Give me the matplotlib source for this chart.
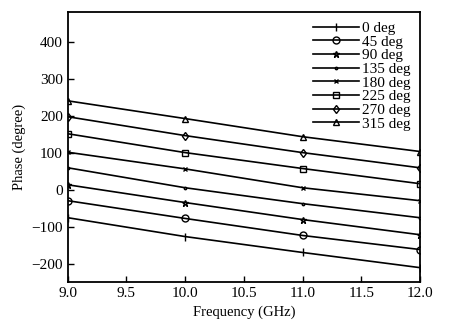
import numpy as np
import matplotlib
matplotlib.use('Agg')
import matplotlib.pyplot as plt

plt.rcParams['font.family'] = ['Liberation Serif', 'DejaVu Serif']

freq = [9.0, 10.0, 11.0, 12.0]
labels = ['0 deg', '45 deg', '90 deg', '135 deg', '180 deg',
          '225 deg', '270 deg', '315 deg']
phase = [
    [-76, -127, -170, -211],
    [-30, -78, -124, -162],
    [13, -35, -81, -122],
    [59, 5, -38, -76],
    [101, 56, 5, -30],
    [151, 100, 57, 16],
    [197, 146, 100, 59],
    [240, 192, 143, 103],
]
markers = ['|', 'o', '*', '.', 'x', 's', 'd', '^']
msizes = [6, 5, 4.5, 3.5, 3.5, 5, 4.5, 5]

fig = plt.figure(figsize=(4.58, 3.35), dpi=100, facecolor='w')
ax = fig.add_axes([0.148, 0.158, 0.769, 0.806])

for vals, lab, m, ms in zip(phase, labels, markers, msizes):
    ax.plot(freq, vals, color='k', linewidth=1.2, marker=m, markersize=ms,
            markerfacecolor='none', markeredgecolor='k', markeredgewidth=1.0,
            label=lab)

ax.set_xlim(9.0, 12.0)
ax.set_ylim(-250, 480)
ax.set_xticks([9.0, 9.5, 10.0, 10.5, 11.0, 11.5, 12.0])
ax.set_xticklabels(['9.0', '9.5', '10.0', '10.5', '11.0', '11.5', '12.0'])
ax.set_yticks([-200, -100, 0, 100, 200, 300, 400])
ax.tick_params(direction='in', length=4, labelsize=11, width=1)
for s in ax.spines.values():
    s.set_linewidth(1.3)
ax.set_xlabel('Frequency (GHz)', fontsize=10.5)
ax.set_ylabel('Phase (degree)', fontsize=10.5)
ax.legend(loc='upper right', frameon=False, fontsize=11, handlelength=3.0,
          handletextpad=0.2, labelspacing=0.0, borderaxespad=0.2)

fig.savefig('out.png', dpi=100)
